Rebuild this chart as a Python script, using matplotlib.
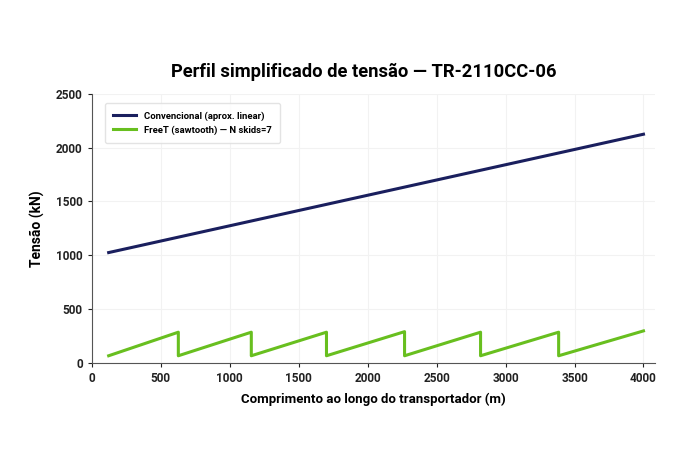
import matplotlib.pyplot as plt

# Conventional tension (approx. linear)
conv_x = [123, 4000]
conv_y = [1025, 2125]

# FreeT sawtooth: start, then each skid drop, then end
saw_x = [123, 628, 628, 1157, 1157, 1702, 1702, 2268, 2268, 2819, 2819, 3385, 3385, 4000]
saw_y = [66, 285, 66, 285, 66, 285, 66, 290, 66, 285, 66, 285, 66, 297]

xticks = [0, 500, 1000, 1500, 2000, 2500, 3000, 3500, 4000]
yticks = [0, 500, 1000, 1500, 2000, 2500]

plt.rcParams["font.family"] = ["Roboto", "DejaVu Sans"]

fig = plt.figure(figsize=(7, 4.67), dpi=100)
ax = fig.add_axes([0.131, 0.223, 0.805, 0.576])

ax.plot(conv_x, conv_y, color="#1a1f5e", lw=2.2, label="Convencional (aprox. linear)")
ax.plot(saw_x, saw_y, color="#68bf1f", lw=2.2, label="FreeT (sawtooth) — N skids=7")

ax.set_xlim(0, 4085)
ax.set_ylim(0, 2500)
ax.set_xticks(xticks)
ax.set_yticks(yticks)
ax.tick_params(labelsize=8.5, length=3, colors="#222222")
for lab in ax.get_xticklabels() + ax.get_yticklabels():
    lab.set_fontweight("bold")

ax.grid(True, color="#f2f2f2", lw=0.8)
ax.set_axisbelow(True)
for side in ("top", "right"):
    ax.spines[side].set_visible(False)
for side in ("left", "bottom"):
    ax.spines[side].set_color("#555555")

ax.set_xlabel("Comprimento ao longo do transportador (m)", fontsize=9.5, fontweight="bold", labelpad=6)
ax.set_ylabel("Tensão (kN)", fontsize=10, fontweight="bold", labelpad=8)

leg = ax.legend(loc="upper left", fontsize=6.8, frameon=True, borderpad=0.9, handlelength=2.4,
                bbox_to_anchor=(0.015, 0.985))
leg.get_frame().set_edgecolor("#dddddd")
for t in leg.get_texts():
    t.set_fontweight("bold")

fig.text(0.519, 0.845, "Perfil simplificado de tensão — TR-2110CC-06", ha="center", va="center",
         fontsize=13.2, fontweight="bold")

fig.savefig("out.png", dpi=100)
